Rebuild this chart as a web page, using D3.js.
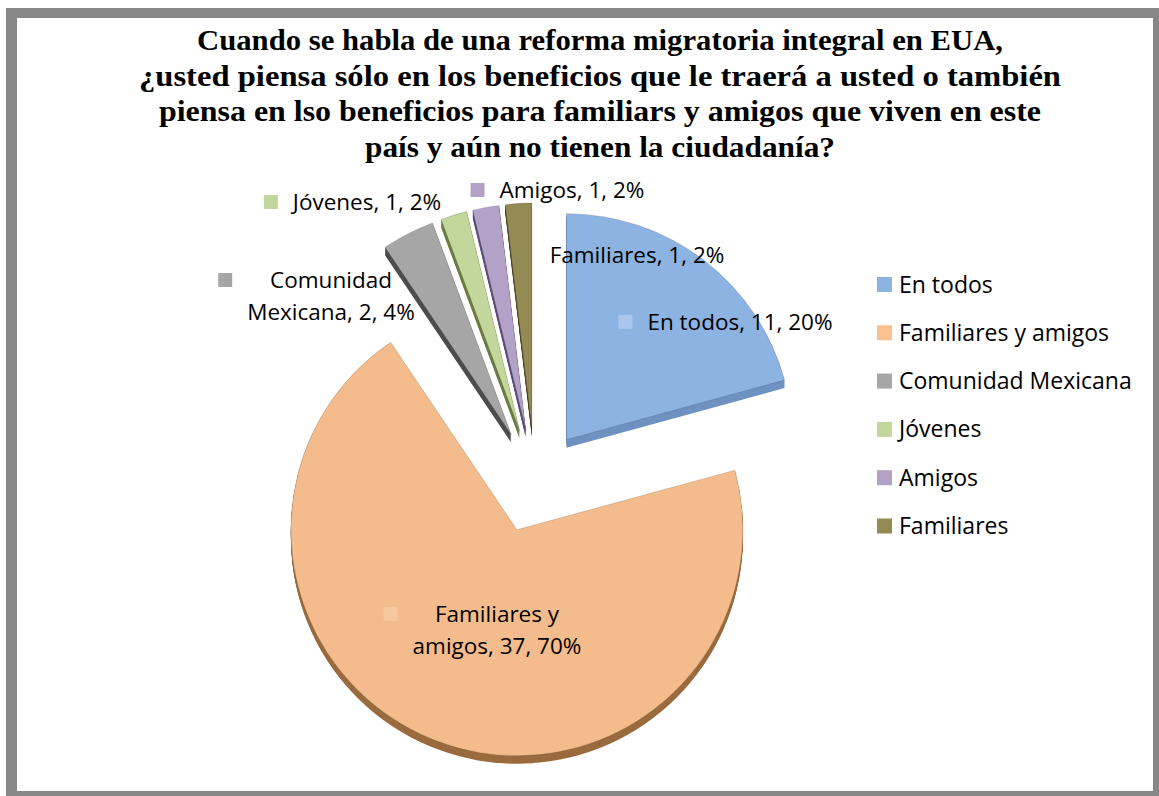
<!DOCTYPE html>
<html><head><meta charset="utf-8">
<script src="https://cdn.jsdelivr.net/npm/d3@7/dist/d3.min.js"></script>
<style>body{margin:0;background:#fff}svg{display:block}</style>
</head><body>
<svg id="chart" width="1159" height="796"></svg>
<script>
// ---- data ----
const titleLines = [
  "Cuando se habla de una reforma migratoria integral en EUA,",
  "¿usted piensa sólo en los beneficios que le traerá a usted o también",
  "piensa en lso beneficios para familiars y amigos que viven en este",
  "país y aún no tienen la ciudadanía?"
];
const categories = ["En todos","Familiares y amigos","Comunidad Mexicana","Jóvenes","Amigos","Familiares"];
const values = [11,37,2,1,1,1];
const percentLabels = ["20%","70%","4%","2%","2%","2%"];

// ---- styles / layout ----
const topColors  = ["#8DB3E2","#F4BC8C","#A6A6A6","#C3D69B","#B3A2C7","#948A54"];
const sideColors = ["#6F92C2","#9A6B3E","#4E4E4E","#6E7D45","#5E4F7A","#4F4825"];
const legendColors = ["#8DB3E2","#FAC090","#A6A6A6","#C3D69B","#B3A2C7","#948A54"];
const cx = 535, cy = 481, radius = 226, explode = 52, depth = 8;
// label layout: text centre x, first baseline y
const labelLayout = [
  {x:740, y:330, key:true},
  {x:497, y:622, key:true},
  {x:331, y:288, key:true},
  {x:367, y:210, key:true},
  {x:572, y:198, key:true},
  {x:637, y:263, key:false}
];

const svg = d3.select("#chart");
// frame
svg.append("rect").attr("x",6).attr("y",8).attr("width",1153).attr("height",788).attr("fill","#878787");
svg.append("rect").attr("x",17).attr("y",18).attr("width",1136).attr("height",773).attr("fill","#ffffff");

// title
const title = svg.append("g");
const titleLens = [806, 922, 882, 470];
titleLines.forEach((t,i)=>{
  title.append("text").attr("x",600).attr("y",50 + i*35.7)
    .attr("text-anchor","middle")
    .attr("font-family","'Liberation Serif', serif").attr("font-weight","bold")
    .attr("font-size",29).attr("fill","#000")
    .attr("textLength",titleLens[i]).attr("lengthAdjust","spacingAndGlyphs")
    .text(t);
});

// pie
const pie = d3.pie().sort(null).value(d=>d.v).startAngle(0).endAngle(2*Math.PI);
const arcs = pie(values.map((v,i)=>({v,i})));
const arcGen = d3.arc().innerRadius(0).outerRadius(radius);
const g = svg.append("g").attr("transform",`translate(${cx},${cy})`);
const order = [2,3,4,5,0,1];
order.forEach(i=>{
  const a = arcs[i];
  const mid = (a.startAngle + a.endAngle)/2;
  const ox = Math.sin(mid)*explode, oy = -Math.cos(mid)*explode;
  const sg = g.append("g").attr("transform",`translate(${ox},${oy})`);
  for(let k=depth;k>=1;k--){
    sg.append("path").attr("d",arcGen(a)).attr("transform",`translate(0,${k})`)
      .attr("fill",sideColors[i]);
  }
  sg.append("path").attr("d",arcGen(a)).attr("fill",topColors[i])
    .attr("stroke","rgba(0,0,0,0.18)").attr("stroke-width",0.8);
});

// data labels
const labelFont = "'Open Sans', sans-serif";
const lblSize = 22.5;
labelLayout.forEach((L,i)=>{
  const full = `${categories[i]}, ${values[i]}, ${percentLabels[i]}`;
  let lines = [full];
  if(i===1) lines = ["Familiares y", `amigos, ${values[i]}, ${percentLabels[i]}`];
  if(i===2) lines = ["Comunidad", `Mexicana, ${values[i]}, ${percentLabels[i]}`];
  const tg = svg.append("g");
  let maxW = 0;
  lines.forEach((ln,j)=>{
    const t = tg.append("text").attr("x",L.x).attr("y",L.y + j*32)
      .attr("text-anchor","middle").attr("font-family",labelFont)
      .attr("font-size",lblSize).attr("fill","#000").text(ln);
    maxW = Math.max(maxW, t.node().getComputedTextLength());
  });
  if(L.key){
    const keyColor = (i===0) ? "#A9C6EC" : (i===1 ? "#F7C7A0" : legendColors[i]);
    const left = L.x - maxW/2;
    tg.insert("rect","text").attr("x",left - 29).attr("y",L.y - 15).attr("width",14).attr("height",14)
      .attr("fill",keyColor);
  }
});

// legend
const leg = svg.append("g").attr("transform","translate(877,284)");
categories.forEach((c,i)=>{
  const r = leg.append("g").attr("transform",`translate(0,${i*48.3})`);
  r.append("rect").attr("x",0).attr("y",-7).attr("width",15).attr("height",15).attr("fill",legendColors[i]);
  r.append("text").attr("x",22).attr("y",8.5).attr("font-family",labelFont)
    .attr("font-size",23).attr("fill","#000").text(c);
});
</script>
</body></html>
